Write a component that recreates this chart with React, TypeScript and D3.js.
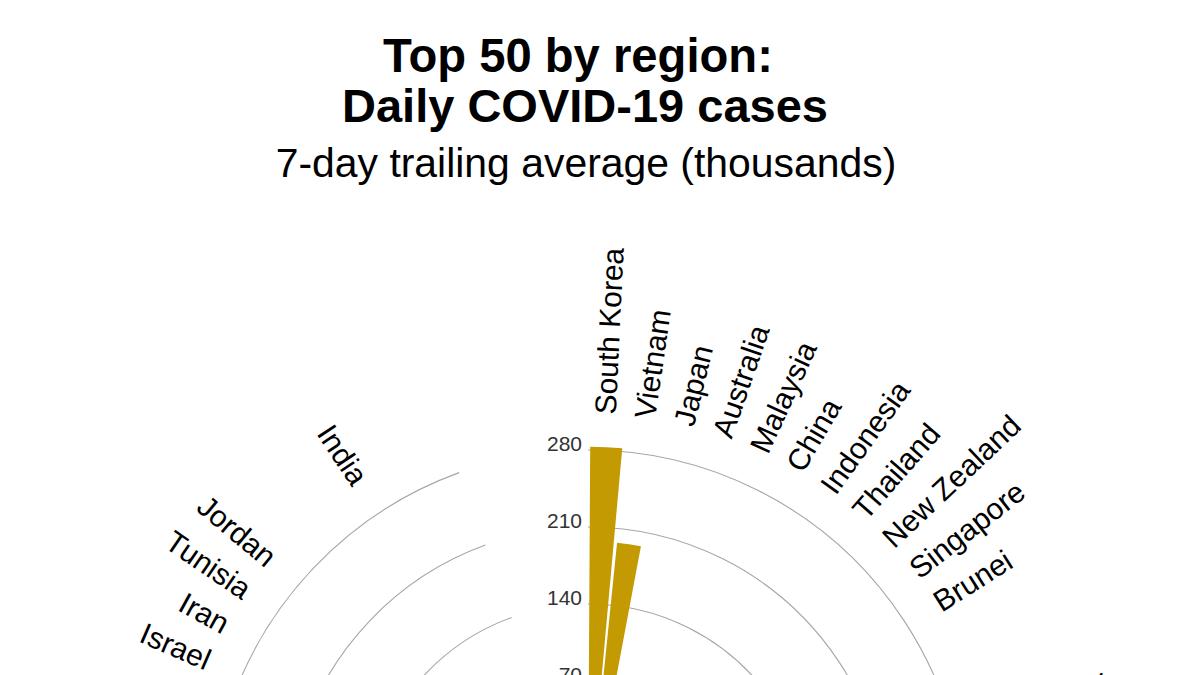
import React from 'react';
import * as d3 from 'd3';

const WIDTH = 1200;
const HEIGHT = 675;

// East Asia & Pacific
const eapCountries = ['South Korea', 'Vietnam', 'Japan', 'Australia', 'Malaysia', 'China', 'Indonesia', 'Thailand', 'New Zealand', 'Singapore', 'Brunei'];
const eapValues = [283, 197, 52, 48, 25, 22, 18, 17, 16, 13, 2];

// Europe & Central Asia
const europeCountries = ['Germany', 'France', 'United Kingdom', 'Italy', 'Netherlands', 'Russia', 'Austria', 'Switzerland', 'Denmark', 'Finland', 'Greece', 'Belgium', 'Portugal', 'Spain', 'Ukraine', 'Poland', 'Czechia', 'Norway', 'Ireland', 'Turkey', 'Slovakia', 'Latvia', 'Lithuania', 'Estonia', 'Sweden', 'Romania'];
const europeValues = [215, 120, 80, 70, 60, 40, 38, 30, 28, 25, 22, 20, 18, 17, 15, 14, 13, 12, 11, 10, 9, 8, 7, 6, 5, 4.5];

// Americas
const americasCountries = ['Brazil', 'United States', 'Chile', 'Mexico', 'Canada', 'Argentina'];
const americasValues = [50, 35, 20, 8, 7, 6];

// Sub-Saharan Africa
const africaCountries = ['South Africa', 'Mauritius'];
const africaValues = [2.5, 1.2];

// Middle East & North Africa
const menaCountries = ['Israel', 'Iran', 'Tunisia', 'Jordan'];
const menaValues = [12, 6, 3, 2.5];

// South Asia
const southAsiaCountries = ['India'];
const southAsiaValues = [2.1];

const tickValues = [70, 140, 210, 280];

const GROUP_GAP = 2;
const END_GAP = 6;

type Item = { key: string; name: string; value: number | null };

function buildSlots(): Item[] {
  const groups: [string[], number[]][] = [
    [eapCountries, eapValues],
    [europeCountries, europeValues],
    [americasCountries, americasValues],
    [africaCountries, africaValues],
    [menaCountries, menaValues],
    [southAsiaCountries, southAsiaValues],
  ];
  const out: Item[] = [];
  let g = 0;
  groups.forEach(([names, vals], gi) => {
    names.forEach((n, i) => out.push({ key: n, name: n, value: vals[i] }));
    const gap = gi === groups.length - 1 ? END_GAP : GROUP_GAP;
    for (let k = 0; k < gap; k++) out.push({ key: `gap-${g++}`, name: '', value: null });
  });
  return out;
}

const slots = buildSlots();

const CX = 588;
const CY = 828;
const STEP_DEG = 5.485;
const LABEL_R = 414;
const toRad = (d: number) => (d * Math.PI) / 180;

export default function App() {
  const x = d3
    .scaleBand<string>()
    .domain(slots.map((s) => s.key))
    .range([0, toRad(STEP_DEG * slots.length)])
    .paddingInner(0.12)
    .paddingOuter(0.06);

  const r = d3.scaleLinear().domain([0, 280]).range([70, 378]);

  const arcGen = d3.arc<any>();

  const gridEnd = x.step() * 62;

  const bars = slots.filter((s) => s.value !== null);

  return (
    <svg
      width={WIDTH}
      height={HEIGHT}
      style={{ position: 'absolute', left: 0, top: 0, background: '#fff' }}
      fontFamily="'Liberation Sans', Arial, sans-serif"
    >
      <rect width={WIDTH} height={HEIGHT} fill="#fff" />
      <g textAnchor="middle" fill="#000">
        <text x={578} y={72} fontSize={47.2} fontWeight="bold">Top 50 by region:</text>
        <text x={585} y={122} fontSize={47} fontWeight="bold">Daily COVID-19 cases</text>
        <text x={586} y={177} fontSize={40.9}>7-day trailing average (thousands)</text>
      </g>
      <g transform={`translate(${CX},${CY})`}>
        {tickValues.map((t) => (
          <path
            key={`grid-${t}`}
            d={arcGen({ innerRadius: r(t), outerRadius: r(t), startAngle: 0, endAngle: gridEnd }) || ''}
            fill="none"
            stroke="#a6a6a6"
            strokeWidth={1.1}
          />
        ))}
        {bars.map((b) => (
          <path
            key={`bar-${b.key}`}
            d={
              arcGen({
                innerRadius: r(0),
                outerRadius: r(b.value as number),
                startAngle: x(b.key) as number,
                endAngle: (x(b.key) as number) + x.bandwidth(),
              }) || ''
            }
            fill="#C49A02"
          />
        ))}
        {tickValues.map((t) => (
          <text
            key={`tick-${t}`}
            x={-6}
            y={-r(t) - 5}
            fontSize={21}
            fill="#333"
            textAnchor="end"
            dominantBaseline="middle"
          >
            {t}
          </text>
        ))}
        {bars.map((b) => {
          const a = (x(b.key) as number) + x.bandwidth() / 2;
          const deg = (a * 180) / Math.PI;
          const px = LABEL_R * Math.sin(a);
          const py = -LABEL_R * Math.cos(a);
          const right = deg % 360 < 180;
          const rot = right ? deg - 90 : deg + 90;
          return (
            <text
              key={`lab-${b.key}`}
              transform={`translate(${px},${py}) rotate(${rot})`}
              textAnchor={right ? 'start' : 'end'}
              dominantBaseline="middle"
              fontSize={30}
              fill="#000"
            >
              {b.name}
            </text>
          );
        })}
      </g>
    </svg>
  );
}
